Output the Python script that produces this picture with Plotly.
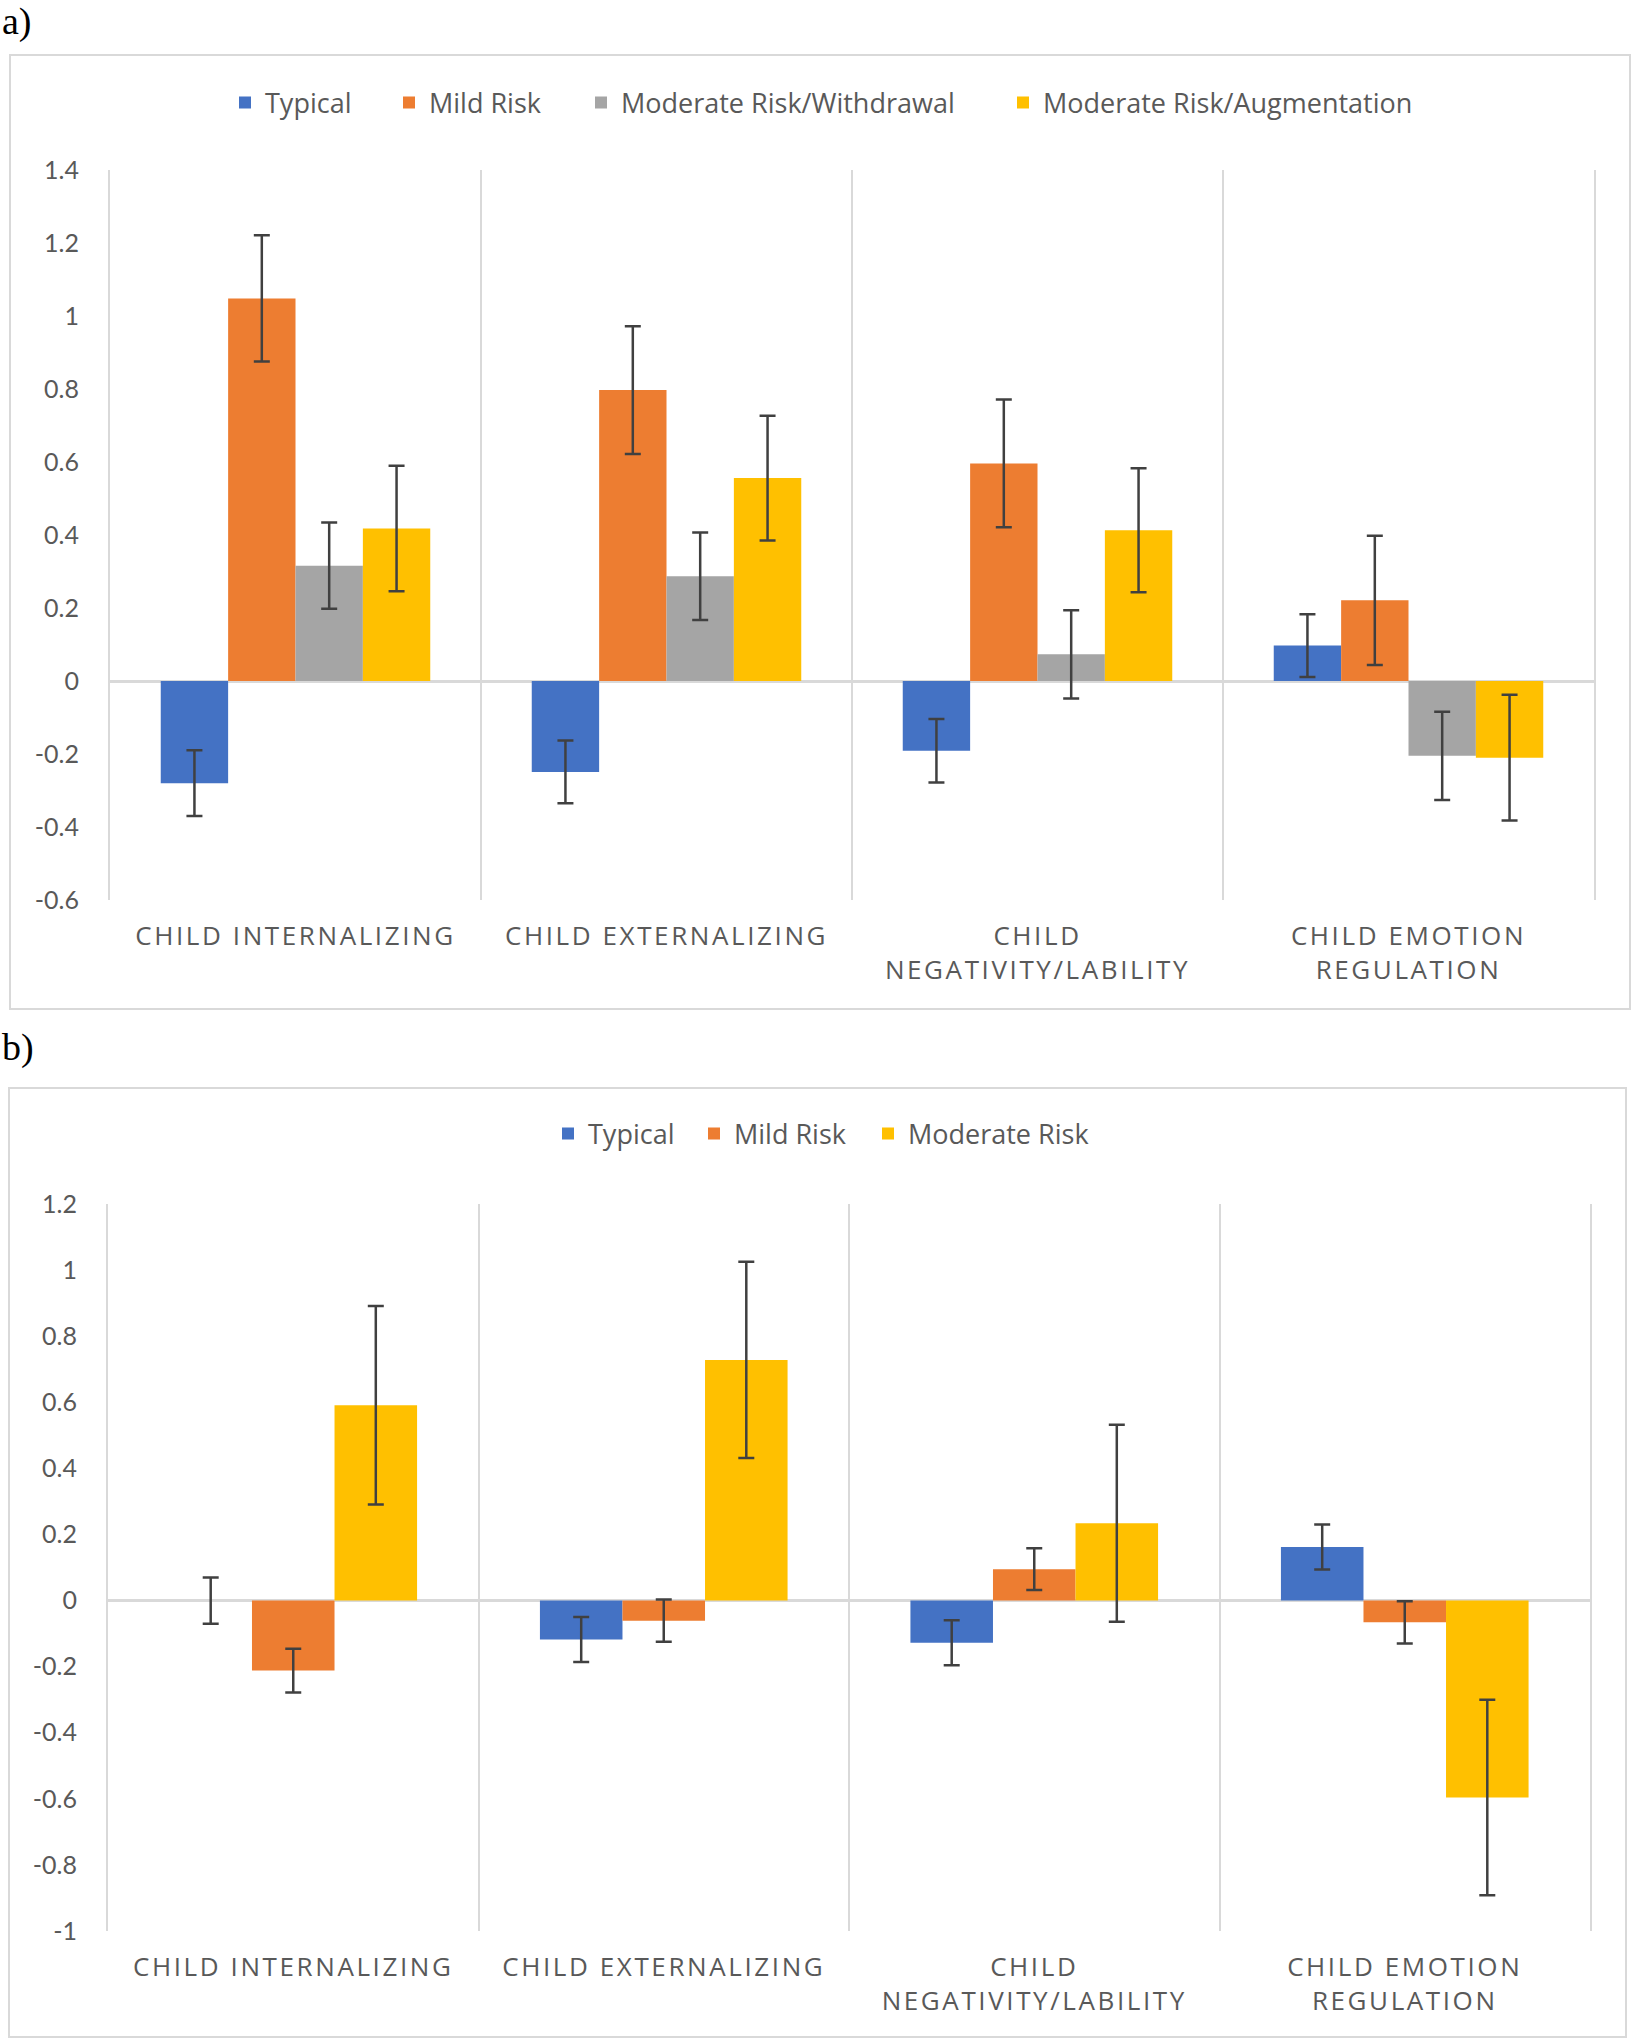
import plotly.graph_objects as go

W, H = 1634, 2040

categories = ["CHILD INTERNALIZING", "CHILD EXTERNALIZING",
              "CHILD<br>NEGATIVITY/LABILITY", "CHILD EMOTION<br>REGULATION"]

# Panel a
a_series = ["Typical", "Mild Risk", "Moderate Risk/Withdrawal", "Moderate Risk/Augmentation"]
a_typical = [-0.280, -0.249, -0.191, 0.097]
a_typical_err = [0.090, 0.086, 0.087, 0.086]
a_mild = [1.048, 0.797, 0.596, 0.221]
a_mild_err = [0.173, 0.175, 0.175, 0.177]
a_withdrawal = [0.316, 0.287, 0.073, -0.205]
a_withdrawal_err = [0.118, 0.120, 0.121, 0.121]
a_augmentation = [0.418, 0.556, 0.413, -0.210]
a_augmentation_err = [0.172, 0.171, 0.170, 0.172]
a_tickvals = [-0.6, -0.4, -0.2, 0, 0.2, 0.4, 0.6, 0.8, 1.0, 1.2, 1.4]
a_ticktext = ["-0.6", "-0.4", "-0.2", "0", "0.2", "0.4", "0.6", "0.8", "1", "1.2", "1.4"]

# Panel b
b_series = ["Typical", "Mild Risk", "Moderate Risk"]
b_typical = [0.0, -0.118, -0.128, 0.162]
b_typical_err = [0.070, 0.068, 0.068, 0.068]
b_mild = [-0.212, -0.061, 0.095, -0.066]
b_mild_err = [0.066, 0.064, 0.063, 0.064]
b_moderate = [0.591, 0.728, 0.234, -0.596]
b_moderate_err = [0.300, 0.297, 0.298, 0.296]
b_tickvals = [-1.0, -0.8, -0.6, -0.4, -0.2, 0, 0.2, 0.4, 0.6, 0.8, 1.0, 1.2]
b_ticktext = ["-1", "-0.8", "-0.6", "-0.4", "-0.2", "0", "0.2", "0.4", "0.6", "0.8", "1", "1.2"]

colors_a = ["#4472C4", "#ED7D31", "#A5A5A5", "#FFC000"]
colors_b = ["#4472C4", "#ED7D31", "#FFC000"]


def px(x):
    return x / W


def py(y):
    return 1 - y / H


TEXT = "#595959"
GRID = "#D9D9D9"
FONT = "Lato"
LFONT = "Open Sans"

fig = go.Figure()

err_style = dict(type="data", color="#404040", thickness=2.5, width=8, visible=True)

a_vals = [a_typical, a_mild, a_withdrawal, a_augmentation]
a_errs = [a_typical_err, a_mild_err, a_withdrawal_err, a_augmentation_err]
wa = 0.1816
for i, (name, vals, errs) in enumerate(zip(a_series, a_vals, a_errs)):
    fig.add_trace(go.Bar(
        x=categories, y=vals, name=name, marker=dict(color=colors_a[i], line=dict(width=0)),
        width=wa, offset=-2 * wa + i * wa,
        error_y=dict(array=errs, **err_style),
        xaxis="x", yaxis="y", showlegend=True,
        legend="legend" if i == 0 else f"legend{i + 1}",
    ))

b_vals = [b_typical, b_mild, b_moderate]
b_errs = [b_typical_err, b_mild_err, b_moderate_err]
wb = 0.2228
for i, (name, vals, errs) in enumerate(zip(b_series, b_vals, b_errs)):
    fig.add_trace(go.Bar(
        x=categories, y=vals, name=name, marker=dict(color=colors_b[i], line=dict(width=0)),
        width=wb, offset=-1.5 * wb + i * wb,
        error_y=dict(array=errs, **err_style),
        xaxis="x2", yaxis="y2", showlegend=True,
        legend=f"legend{i + 5}",
    ))

xcommon = dict(type="category", range=[-0.5, 3.5], tickson="boundaries", showgrid=True,
               gridcolor=GRID, gridwidth=2, ticks="", showline=False, zeroline=False,
               tickfont=dict(family=LFONT, size=26, color=TEXT), ticklabelstandoff=18,
               fixedrange=True)
ycommon = dict(showgrid=False, zeroline=True, zerolinecolor=GRID, zerolinewidth=3,
               showline=True, linecolor=GRID, linewidth=2, mirror=True, ticks="",
               tickfont=dict(family=FONT, size=25, color=TEXT), ticklabelstandoff=24,
               fixedrange=True)

legend_font = dict(family=LFONT, size=27, color=TEXT)
a_leg_x = [245, 409, 601, 1023]
b_leg_x = [568, 714, 888]
legends = {}
for i, xc in enumerate(a_leg_x):
    key = "legend" if i == 0 else f"legend{i + 1}"
    legends[key] = dict(x=px(xc - 20), y=py(103), xanchor="left", yanchor="middle",
                        orientation="h", font=legend_font, bgcolor="rgba(0,0,0,0)")
for i, xc in enumerate(b_leg_x):
    legends[f"legend{i + 5}"] = dict(x=px(xc - 20), y=py(1134), xanchor="left", yanchor="middle",
                                     orientation="h", font=legend_font, bgcolor="rgba(0,0,0,0)")

fig.update_layout(
    width=W, height=H, autosize=False,
    margin=dict(l=0, r=0, t=0, b=0, pad=0, autoexpand=False),
    showlegend=True,
    paper_bgcolor="white", plot_bgcolor="white",
    barmode="overlay",
    xaxis=dict(domain=[px(110), px(1594)], anchor="y", **xcommon),
    yaxis=dict(domain=[py(900), py(170)], anchor="x", range=[-0.6, 1.4],
               tickvals=a_tickvals, ticktext=a_ticktext, **ycommon),
    xaxis2=dict(domain=[px(108), px(1590)], anchor="y2", **xcommon),
    yaxis2=dict(domain=[py(1931), py(1204)], anchor="x2", range=[-1.0, 1.2],
                tickvals=b_tickvals, ticktext=b_ticktext, **ycommon),
    shapes=[
        dict(type="rect", xref="paper", yref="paper", x0=px(10), x1=px(1630), y0=py(1009), y1=py(55),
             line=dict(color=GRID, width=2), fillcolor="rgba(0,0,0,0)", layer="below"),
        dict(type="rect", xref="paper", yref="paper", x0=px(9), x1=px(1626), y0=py(2037), y1=py(1088),
             line=dict(color=GRID, width=2), fillcolor="rgba(0,0,0,0)", layer="below"),
    ],
    annotations=[
        dict(text="a)", xref="paper", yref="paper", x=0, y=py(22), xanchor="left", yanchor="middle",
             showarrow=False, font=dict(family="Liberation Serif", size=38, color="black")),
        dict(text="b)", xref="paper", yref="paper", x=0, y=py(1047), xanchor="left", yanchor="middle",
             showarrow=False, font=dict(family="Liberation Serif", size=38, color="black")),
    ],
    **legends,
)

post = (
    "document.body.style.margin='0';"
    "document.querySelectorAll('.xtick text, .x2tick text').forEach(function(t){"
    "t.style.letterSpacing='2.6px';});"
)

fig.write_html("out.html", post_script=post,
               config={"displayModeBar": False, "responsive": False})
